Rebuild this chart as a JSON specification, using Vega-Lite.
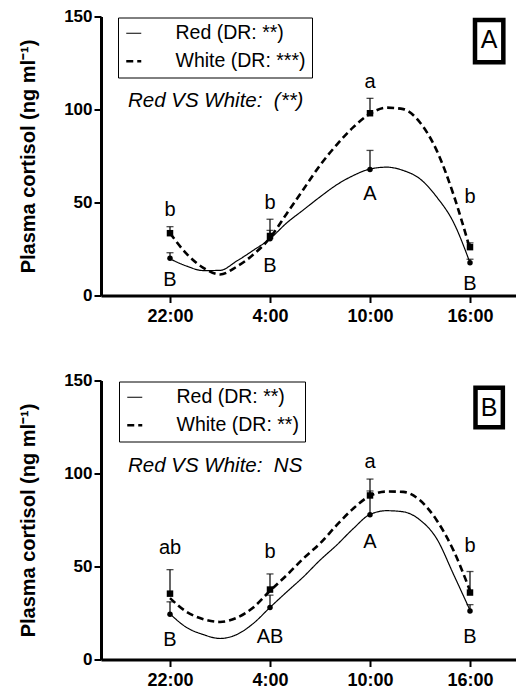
{
  "$schema": "https://vega.github.io/schema/vega-lite/v6.json",
  "autosize": {"type": "pad"},
  "padding": {"left": 18, "top": 7.5, "right": 0, "bottom": 0},
  "background": "white",
  "bounds": "flush",
  "spacing": 85,
  "config": {"view": {"stroke": null}, "font": "Liberation Sans"},
  "datasets": {
    "curves": [
      {"p":"A","s":"Red","h":0,"v":19.7},{"p":"A","s":"Red","h":1,"v":15.8},{"p":"A","s":"Red","h":2,"v":13.4},{"p":"A","s":"Red","h":3,"v":13.5},{"p":"A","s":"Red","h":4,"v":18.5},{"p":"A","s":"Red","h":5,"v":24.3},{"p":"A","s":"Red","h":6,"v":30.5},{"p":"A","s":"Red","h":7,"v":39},{"p":"A","s":"Red","h":8,"v":46},{"p":"A","s":"Red","h":9,"v":53},{"p":"A","s":"Red","h":10,"v":59.5},{"p":"A","s":"Red","h":11,"v":64.5},{"p":"A","s":"Red","h":12,"v":68},{"p":"A","s":"Red","h":13,"v":69},{"p":"A","s":"Red","h":14,"v":67.2},{"p":"A","s":"Red","h":15,"v":62.7},{"p":"A","s":"Red","h":16,"v":53},{"p":"A","s":"Red","h":17,"v":39.5},{"p":"A","s":"Red","h":18,"v":17.6},
      {"p":"A","s":"White","h":0,"v":33.5},{"p":"A","s":"White","h":1,"v":22.4},{"p":"A","s":"White","h":2,"v":14.9},{"p":"A","s":"White","h":3,"v":11.3},{"p":"A","s":"White","h":4,"v":15.5},{"p":"A","s":"White","h":5,"v":22},{"p":"A","s":"White","h":6,"v":31},{"p":"A","s":"White","h":7,"v":44},{"p":"A","s":"White","h":8,"v":57},{"p":"A","s":"White","h":9,"v":70},{"p":"A","s":"White","h":10,"v":81},{"p":"A","s":"White","h":11,"v":90.5},{"p":"A","s":"White","h":12,"v":97.7},{"p":"A","s":"White","h":13,"v":101},{"p":"A","s":"White","h":14,"v":100.2},{"p":"A","s":"White","h":15,"v":93},{"p":"A","s":"White","h":16,"v":78},{"p":"A","s":"White","h":17,"v":54.5},{"p":"A","s":"White","h":18,"v":25},
      {"p":"B","s":"Red","h":0,"v":24.5},{"p":"B","s":"Red","h":1,"v":17.2},{"p":"B","s":"Red","h":2,"v":13.4},{"p":"B","s":"Red","h":3,"v":11.3},{"p":"B","s":"Red","h":4,"v":13.4},{"p":"B","s":"Red","h":5,"v":19.4},{"p":"B","s":"Red","h":6,"v":28},{"p":"B","s":"Red","h":7,"v":36.3},{"p":"B","s":"Red","h":8,"v":44.4},{"p":"B","s":"Red","h":9,"v":53.4},{"p":"B","s":"Red","h":10,"v":61.5},{"p":"B","s":"Red","h":11,"v":70.4},{"p":"B","s":"Red","h":12,"v":78},{"p":"B","s":"Red","h":13,"v":80},{"p":"B","s":"Red","h":14,"v":79.4},{"p":"B","s":"Red","h":15,"v":75},{"p":"B","s":"Red","h":16,"v":65},{"p":"B","s":"Red","h":17,"v":46},{"p":"B","s":"Red","h":18,"v":26.5},
      {"p":"B","s":"White","h":0,"v":33},{"p":"B","s":"White","h":1,"v":25.6},{"p":"B","s":"White","h":2,"v":21.7},{"p":"B","s":"White","h":3,"v":20.2},{"p":"B","s":"White","h":4,"v":22.4},{"p":"B","s":"White","h":5,"v":28},{"p":"B","s":"White","h":6,"v":36.9},{"p":"B","s":"White","h":7,"v":45.3},{"p":"B","s":"White","h":8,"v":54.3},{"p":"B","s":"White","h":9,"v":62.4},{"p":"B","s":"White","h":10,"v":72.2},{"p":"B","s":"White","h":11,"v":81.2},{"p":"B","s":"White","h":12,"v":88},{"p":"B","s":"White","h":13,"v":90.3},{"p":"B","s":"White","h":14,"v":90.1},{"p":"B","s":"White","h":15,"v":85.6},{"p":"B","s":"White","h":16,"v":74.9},{"p":"B","s":"White","h":17,"v":58.8},{"p":"B","s":"White","h":18,"v":37}
    ],
    "means": [
      {"p":"A","s":"Red","h":0,"v":20,"u":23},{"p":"A","s":"Red","h":6,"v":30.5,"u":35},{"p":"A","s":"Red","h":12,"v":67.7,"u":78},{"p":"A","s":"Red","h":18,"v":17.6,"u":19.5},
      {"p":"A","s":"White","h":0,"v":33.5,"u":37},{"p":"A","s":"White","h":6,"v":32,"u":41},{"p":"A","s":"White","h":12,"v":98,"u":106},{"p":"A","s":"White","h":18,"v":26,"u":28.3},
      {"p":"B","s":"Red","h":0,"v":24.3,"u":31},{"p":"B","s":"Red","h":6,"v":27.9,"u":34.6},{"p":"B","s":"Red","h":12,"v":77.8,"u":90.6},{"p":"B","s":"Red","h":18,"v":26.1,"u":29.5},
      {"p":"B","s":"White","h":0,"v":35.4,"u":48.3},{"p":"B","s":"White","h":6,"v":37.6,"u":46},{"p":"B","s":"White","h":12,"v":88.2,"u":97},{"p":"B","s":"White","h":18,"v":36,"u":47.3}
    ],
    "letters": [
      {"p":"A","h":0,"lab":"b","v":46},{"p":"A","h":6,"lab":"b","v":50},{"p":"A","h":12,"lab":"a","v":115},{"p":"A","h":18,"lab":"b","v":53},
      {"p":"A","h":0,"lab":"B","v":8.6},{"p":"A","h":6,"lab":"B","v":16},{"p":"A","h":12,"lab":"A","v":54.7},{"p":"A","h":18,"lab":"B","v":6.3},
      {"p":"B","h":0,"lab":"ab","v":60.1},{"p":"B","h":6,"lab":"b","v":57.8},{"p":"B","h":12,"lab":"a","v":106},{"p":"B","h":18,"lab":"b","v":60.9},
      {"p":"B","h":0,"lab":"B","v":10.4},{"p":"B","h":6,"lab":"AB","v":12.2},{"p":"B","h":12,"lab":"A","v":63.2},{"p":"B","h":18,"lab":"B","v":12.2}
    ],
    "notes": [
      {"p":"A","k":"vs","t":"Red VS White:\u00a0 (**)","h":-2.52,"v":104.8},
      {"p":"A","k":"panel","t":"A","h":19.14,"v":137.1,"h0":18.3,"h2":20.0,"v0":148.1,"v2":125.4},
      {"p":"B","k":"vs","t":"Red VS White:\u00a0 NS","h":-2.52,"v":104.3},
      {"p":"B","k":"panel","t":"B","h":19.14,"v":135.3,"h0":18.33,"h2":19.97,"v0":146.1,"v2":124.8}
    ]
  },
  "resolve": {
    "scale": {"strokeDash": "independent", "strokeWidth": "independent"},
    "legend": {"strokeDash": "independent", "strokeWidth": "independent"}
  },
  "vconcat": [
    {
      "width": 415, "height": 279,
      "encoding": {
        "x": {"field": "h", "type": "quantitative", "scale": {"domain": [-4.14, 20.76], "nice": false, "zero": false},
          "axis": {"values": [0, 6, 12, 18], "labelExpr": "datum.value == 0 ? '22:00' : datum.value == 6 ? '4:00' : datum.value == 12 ? '10:00' : '16:00'", "title": null, "grid": false, "domainColor": "black", "domainWidth": 3, "tickColor": "black", "tickWidth": 2, "tickSize": 7, "labelFont": "Liberation Sans", "labelFontWeight": "bold", "labelFontSize": 18, "labelColor": "black", "labelPadding": 5, "labelFlush": false, "labelOverlap": false}},
        "y": {"field": "v", "type": "quantitative", "scale": {"domain": [0, 150], "nice": false},
          "axis": {"values": [0, 50, 100, 150], "title": "Plasma cortisol (ng ml⁻¹)", "titleFont": "Liberation Sans", "titleFontWeight": "bold", "titleFontSize": 20, "titleColor": "black", "titleX": -73, "titleY": 139.5, "titleAngle": -90, "titleBaseline": "middle", "titleAlign": "center", "grid": false, "domainColor": "black", "domainWidth": 3, "tickColor": "black", "tickWidth": 2, "tickSize": 7, "labelFont": "Liberation Sans", "labelFontWeight": "bold", "labelFontSize": 17, "labelColor": "black", "labelPadding": 2, "labelFlush": false, "labelOverlap": false}}
      },
      "layer": [
        {
          "data": {"name": "curves"},
          "transform": [{"filter": "datum.p === 'A'"}],
          "mark": {"type": "line", "interpolate": "monotone", "color": "black"},
          "encoding": {
            "detail": {"field": "s"},
            "strokeDash": {"field": "s", "type": "nominal", "scale": {"domain": ["Red", "White"], "range": [[1, 0], [7, 4]]},
              "legend": {"orient": "none", "legendX": 17, "legendY": 1, "title": null,
                "labelExpr": "datum.label === 'Red' ? 'Red (DR: **)' : 'White (DR: ***)'",
                "labelFont": "Liberation Sans", "labelFontSize": 19.5, "labelColor": "black",
                "symbolSize": 225, "symbolStrokeColor": "black", "padding": 6, "rowPadding": 7, "labelOffset": 32, "strokeColor": "black"}},
            "strokeWidth": {"field": "s", "type": "ordinal", "scale": {"domain": ["Red", "White"], "range": [1.2, 2.6]}, "legend": null}
          }
        },
        {
          "data": {"name": "means"},
          "transform": [{"filter": "datum.p === 'A'"}],
          "mark": {"type": "rule", "color": "black", "strokeWidth": 1.2},
          "encoding": {"y2": {"field": "u"}}
        },
        {
          "data": {"name": "means"},
          "transform": [{"filter": "datum.p === 'A'"}],
          "mark": {"type": "tick", "orient": "horizontal", "color": "black", "size": 7, "thickness": 1.3},
          "encoding": {"y": {"field": "u", "type": "quantitative"}}
        },
        {
          "data": {"name": "means"},
          "transform": [{"filter": "datum.p === 'A' && datum.s === 'Red'"}],
          "mark": {"type": "point", "filled": true, "color": "black", "opacity": 1, "shape": "circle", "size": 30}
        },
        {
          "data": {"name": "means"},
          "transform": [{"filter": "datum.p === 'A' && datum.s === 'White'"}],
          "mark": {"type": "point", "filled": true, "color": "black", "opacity": 1, "shape": "square", "size": 42}
        },
        {
          "data": {"name": "letters"},
          "transform": [{"filter": "datum.p === 'A'"}],
          "mark": {"type": "text", "color": "black", "fontSize": 20, "font": "Liberation Sans", "align": "center", "baseline": "middle"},
          "encoding": {"text": {"field": "lab"}}
        },
        {
          "data": {"name": "notes"},
          "transform": [{"filter": "datum.p === 'A' && datum.k === 'vs'"}],
          "mark": {"type": "text", "color": "black", "fontSize": 20.5, "fontStyle": "italic", "font": "Liberation Sans", "align": "left", "baseline": "middle"},
          "encoding": {"text": {"field": "t"}}
        },
        {
          "data": {"name": "notes"},
          "transform": [{"filter": "datum.p === 'A' && datum.k === 'panel'"}],
          "mark": {"type": "rect", "filled": false, "stroke": "black", "strokeWidth": 4.5},
          "encoding": {"x": {"field": "h0", "type": "quantitative"}, "x2": {"field": "h2"}, "y": {"field": "v0", "type": "quantitative"}, "y2": {"field": "v2"}}
        },
        {
          "data": {"name": "notes"},
          "transform": [{"filter": "datum.p === 'A' && datum.k === 'panel'"}],
          "mark": {"type": "text", "color": "black", "fontSize": 25, "font": "Liberation Sans", "align": "center", "baseline": "middle"},
          "encoding": {"text": {"field": "t"}}
        }
      ]
    },
    {
      "width": 415, "height": 279,
      "encoding": {
        "x": {"field": "h", "type": "quantitative", "scale": {"domain": [-4.14, 20.76], "nice": false, "zero": false},
          "axis": {"values": [0, 6, 12, 18], "labelExpr": "datum.value == 0 ? '22:00' : datum.value == 6 ? '4:00' : datum.value == 12 ? '10:00' : '16:00'", "title": null, "grid": false, "domainColor": "black", "domainWidth": 3, "tickColor": "black", "tickWidth": 2, "tickSize": 7, "labelFont": "Liberation Sans", "labelFontWeight": "bold", "labelFontSize": 18, "labelColor": "black", "labelPadding": 5, "labelFlush": false, "labelOverlap": false}},
        "y": {"field": "v", "type": "quantitative", "scale": {"domain": [0, 150], "nice": false},
          "axis": {"values": [0, 50, 100, 150], "title": "Plasma cortisol (ng ml⁻¹)", "titleFont": "Liberation Sans", "titleFontWeight": "bold", "titleFontSize": 20, "titleColor": "black", "titleX": -73, "titleY": 139.5, "titleAngle": -90, "titleBaseline": "middle", "titleAlign": "center", "grid": false, "domainColor": "black", "domainWidth": 3, "tickColor": "black", "tickWidth": 2, "tickSize": 7, "labelFont": "Liberation Sans", "labelFontWeight": "bold", "labelFontSize": 17, "labelColor": "black", "labelPadding": 2, "labelFlush": false, "labelOverlap": false}}
      },
      "layer": [
        {
          "data": {"name": "curves"},
          "transform": [{"filter": "datum.p === 'B'"}],
          "mark": {"type": "line", "interpolate": "monotone", "color": "black"},
          "encoding": {
            "detail": {"field": "s"},
            "strokeDash": {"field": "s", "type": "nominal", "scale": {"domain": ["Red", "White"], "range": [[1, 0], [7, 4]]},
              "legend": {"orient": "none", "legendX": 18, "legendY": 1, "title": null,
                "labelExpr": "datum.label === 'Red' ? 'Red (DR: **)' : 'White (DR: **)'",
                "labelFont": "Liberation Sans", "labelFontSize": 19.5, "labelColor": "black",
                "symbolSize": 225, "symbolStrokeColor": "black", "padding": 6, "rowPadding": 7, "labelOffset": 32, "strokeColor": "black"}},
            "strokeWidth": {"field": "s", "type": "ordinal", "scale": {"domain": ["Red", "White"], "range": [1.2, 2.6]}, "legend": null}
          }
        },
        {
          "data": {"name": "means"},
          "transform": [{"filter": "datum.p === 'B'"}],
          "mark": {"type": "rule", "color": "black", "strokeWidth": 1.2},
          "encoding": {"y2": {"field": "u"}}
        },
        {
          "data": {"name": "means"},
          "transform": [{"filter": "datum.p === 'B'"}],
          "mark": {"type": "tick", "orient": "horizontal", "color": "black", "size": 7, "thickness": 1.3},
          "encoding": {"y": {"field": "u", "type": "quantitative"}}
        },
        {
          "data": {"name": "means"},
          "transform": [{"filter": "datum.p === 'B' && datum.s === 'Red'"}],
          "mark": {"type": "point", "filled": true, "color": "black", "opacity": 1, "shape": "circle", "size": 30}
        },
        {
          "data": {"name": "means"},
          "transform": [{"filter": "datum.p === 'B' && datum.s === 'White'"}],
          "mark": {"type": "point", "filled": true, "color": "black", "opacity": 1, "shape": "square", "size": 42}
        },
        {
          "data": {"name": "letters"},
          "transform": [{"filter": "datum.p === 'B'"}],
          "mark": {"type": "text", "color": "black", "fontSize": 20, "font": "Liberation Sans", "align": "center", "baseline": "middle"},
          "encoding": {"text": {"field": "lab"}}
        },
        {
          "data": {"name": "notes"},
          "transform": [{"filter": "datum.p === 'B' && datum.k === 'vs'"}],
          "mark": {"type": "text", "color": "black", "fontSize": 20.5, "fontStyle": "italic", "font": "Liberation Sans", "align": "left", "baseline": "middle"},
          "encoding": {"text": {"field": "t"}}
        },
        {
          "data": {"name": "notes"},
          "transform": [{"filter": "datum.p === 'B' && datum.k === 'panel'"}],
          "mark": {"type": "rect", "filled": false, "stroke": "black", "strokeWidth": 4.5},
          "encoding": {"x": {"field": "h0", "type": "quantitative"}, "x2": {"field": "h2"}, "y": {"field": "v0", "type": "quantitative"}, "y2": {"field": "v2"}}
        },
        {
          "data": {"name": "notes"},
          "transform": [{"filter": "datum.p === 'B' && datum.k === 'panel'"}],
          "mark": {"type": "text", "color": "black", "fontSize": 25, "font": "Liberation Sans", "align": "center", "baseline": "middle"},
          "encoding": {"text": {"field": "t"}}
        }
      ]
    }
  ]
}
